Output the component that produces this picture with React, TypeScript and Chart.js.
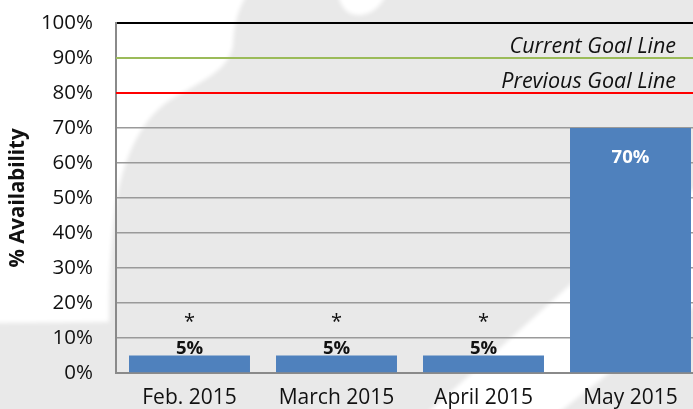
import React, { useEffect, useRef } from 'react';
import { Chart, registerables } from 'chart.js';

Chart.register(...registerables);

const categories = ['Feb. 2015', 'March 2015', 'April 2015', 'May 2015'];
const availability = [5, 5, 5, 70];
const notes = ['*', '*', '*', ''];
const yTickValues = [0, 10, 20, 30, 40, 50, 60, 70, 80, 90, 100];
const goalValues = [90, 80];
const goalLabels = ['Current Goal Line', 'Previous Goal Line'];
const goalColors = ['#9bbb59', '#ff0000'];

const FONT = '"Open Sans", sans-serif';

const watermarkPlugin = {
  id: 'watermark',
  beforeDraw(chart: any) {
    const { ctx, width, height } = chart;
    ctx.save();
    ctx.fillStyle = '#e9e9e9';
    ctx.fillRect(0, 0, width, height);
    ctx.filter = 'blur(2px)';
    ctx.fillStyle = '#ffffff';
    // top-left white area
    ctx.beginPath();
    ctx.moveTo(-10, -10);
    ctx.lineTo(250, -10);
    ctx.bezierCurveTo(240, 5, 234, 20, 233, 45);
    ctx.bezierCurveTo(230, 70, 200, 82, 170, 100);
    ctx.bezierCurveTo(140, 120, 122, 160, 115, 210);
    ctx.bezierCurveTo(110, 250, 109, 290, 109, 322);
    ctx.lineTo(-10, 323);
    ctx.closePath();
    ctx.fill();
    // small top patch
    ctx.beginPath();
    ctx.moveTo(338, -5);
    ctx.quadraticCurveTo(343, 17, 362, 15);
    ctx.quadraticCurveTo(378, 12, 386, -5);
    ctx.closePath();
    ctx.fill();
    // bottom-right diagonal band
    ctx.beginPath();
    ctx.moveTo(425, 415);
    ctx.lineTo(600, 258);
    ctx.lineTo(720, 170);
    ctx.lineTo(720, 285);
    ctx.lineTo(556, 415);
    ctx.closePath();
    ctx.fill();
    ctx.restore();
  },
};

const goalPlugin = {
  id: 'goals',
  afterDatasetsDraw(chart: any) {
    const { ctx, chartArea } = chart;
    const y = chart.scales.y;
    ctx.save();
    goalValues.forEach((g, i) => {
      const py = y.getPixelForValue(g);
      ctx.beginPath();
      ctx.strokeStyle = goalColors[i];
      ctx.lineWidth = 2;
      ctx.moveTo(chartArea.left, py);
      ctx.lineTo(chartArea.right, py);
      ctx.stroke();
      ctx.fillStyle = '#111';
      ctx.font = `italic 21.5px ${FONT}`;
      ctx.textAlign = 'right';
      ctx.textBaseline = 'alphabetic';
      ctx.fillText(goalLabels[i], chartArea.right - 28, py - 5);
    });
    ctx.restore();
  },
};

const labelPlugin = {
  id: 'barLabels',
  afterDatasetsDraw(chart: any) {
    const { ctx } = chart;
    const meta = chart.getDatasetMeta(0);
    ctx.save();
    ctx.textAlign = 'center';
    ctx.textBaseline = 'alphabetic';
    meta.data.forEach((bar: any, i: number) => {
      const text = availability[i] + '%';
      const h = bar.base - bar.y;
      ctx.font = `bold 18.5px ${FONT}`;
      if (h < 40) {
        ctx.fillStyle = '#111';
        ctx.fillText(text, bar.x, bar.y - 2);
        if (notes[i]) {
          ctx.font = `20px ${FONT}`;
          ctx.fillText(notes[i], bar.x, bar.y - 28);
        }
      } else {
        ctx.fillStyle = '#ffffff';
        ctx.fillText(text, bar.x, bar.y + 35);
        if (notes[i]) {
          ctx.font = `20px ${FONT}`;
          ctx.fillStyle = '#111';
          ctx.fillText(notes[i], bar.x, bar.y - 8);
        }
      }
    });
    ctx.restore();
  },
};

export default function App() {
  const ref = useRef<HTMLCanvasElement>(null);
  useEffect(() => {
    if (!ref.current) return;
    const chart = new Chart(ref.current, {
      type: 'bar',
      data: {
        labels: categories,
        datasets: [
          {
            data: availability,
            backgroundColor: '#4f81bd',
            borderWidth: 0,
            barPercentage: 0.823,
            categoryPercentage: 1,
          },
        ],
      },
      options: {
        responsive: false,
        animation: false,
        devicePixelRatio: 1,
        layout: { padding: { top: 23, left: 0, right: 0, bottom: 0 } },
        plugins: {
          legend: { display: false },
          tooltip: { enabled: false },
        },
        scales: {
          x: {
            grid: { display: false },
            border: { color: '#8a8a8a', width: 2 },
            ticks: {
              color: '#111',
              font: { family: FONT, size: 21 },
              padding: 4,
              maxRotation: 0,
              autoSkip: false,
            },
            afterFit: (s: any) => {
              s.height = 36;
              s.paddingLeft = 0;
              s.paddingRight = 0;
            },
          },
          y: {
            min: 0,
            max: 100,
            afterBuildTicks: (s: any) => {
              s.ticks = yTickValues.map((v) => ({ value: v }));
            },
            grid: {
              drawTicks: false,
              color: (c: any) => {
                const v = c.tick && c.tick.value;
                if (v === 100) return '#000000';
                if (goalValues.includes(v)) return 'rgba(0,0,0,0)';
                return '#9a9a9a';
              },
              lineWidth: (c: any) => (c.tick && c.tick.value === 100 ? 2 : 1.5),
            },
            border: { color: '#8a8a8a', width: 2 },
            ticks: {
              color: '#111',
              font: { family: FONT, size: 20.5 },
              padding: 23,
              callback: (v: any) => v + '%',
            },
            title: {
              display: true,
              text: '% Availability',
              color: '#111',
              font: { family: FONT, size: 20.5, weight: 'bold' },
              padding: { top: 6, bottom: 0 },
            },
            afterFit: (s: any) => {
              s.width = 116;
              s.paddingTop = 0;
              s.paddingBottom = 0;
            },
          },
        },
      },
      plugins: [watermarkPlugin, goalPlugin, labelPlugin],
    });
    return () => chart.destroy();
  }, []);
  return (
    <div
      style={{
        position: 'fixed',
        left: 0,
        top: 0,
        width: 693,
        height: 409,
        overflow: 'hidden',
        background: '#fff',
      }}
    >
      <canvas ref={ref} width={704} height={409} style={{ display: 'block' }} />
    </div>
  );
}
